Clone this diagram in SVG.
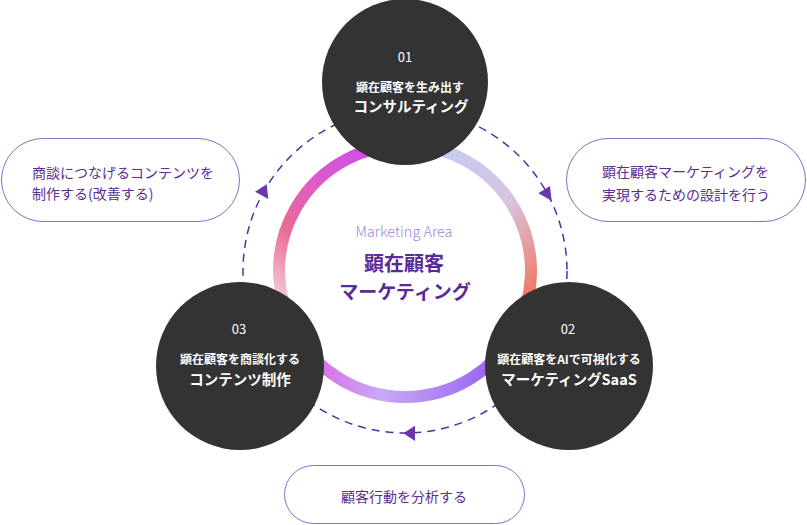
<svg xmlns="http://www.w3.org/2000/svg" width="807" height="525" viewBox="0 0 807 525">
<style>
text{font-family:"Noto Sans CJK JP","Noto Sans",sans-serif;dominant-baseline:central}
.node{fill:#333333}
.num{fill:#ffffff;font-size:13px;text-anchor:middle}
.sub{fill:#ffffff;font-size:12px;font-weight:700;text-anchor:middle}
.title{fill:#ffffff;font-size:14.5px;font-weight:700;text-anchor:middle}
.pill{fill:#ffffff;stroke:#8d6bc9;stroke-width:1}
.ptxt{fill:#5b2d91;font-size:14px}
.dash{fill:none;stroke:#5a2d9e;stroke-width:1.5;stroke-dasharray:8 6}
.arrow{fill:#6a38ad}
.ring{fill:none;stroke-width:12}
</style>
<defs>
<linearGradient id="gA" gradientUnits="userSpaceOnUse" x1="448" y1="153" x2="529" y2="293">
<stop offset="0" stop-color="#c6cbf2"/>
<stop offset="0.45" stop-color="#d8c3de"/>
<stop offset="1" stop-color="#ee7a68"/>
</linearGradient>
<linearGradient id="gB" gradientUnits="userSpaceOnUse" x1="486" y1="368" x2="324" y2="368">
<stop offset="0" stop-color="#9b68f0"/>
<stop offset="0.65" stop-color="#c9a8f7"/>
<stop offset="1" stop-color="#d676e6"/>
</linearGradient>
<linearGradient id="gC" gradientUnits="userSpaceOnUse" x1="281" y1="293" x2="362" y2="153">
<stop offset="0" stop-color="#f3c3cf"/>
<stop offset="0.35" stop-color="#e86c95"/>
<stop offset="0.7" stop-color="#e05ac8"/>
<stop offset="1" stop-color="#cf4fe6"/>
</linearGradient>
</defs>
<rect width="807" height="525" fill="#ffffff"/>

<g id="ring">
<path class="ring" stroke="url(#gA)" d="M405 145 A126 126 0 0 1 514.1 334"/>
<path class="ring" stroke="url(#gB)" d="M514.1 334 A126 126 0 0 1 295.9 334"/>
<path class="ring" stroke="url(#gC)" d="M295.9 334 A126 126 0 0 1 405 145"/>
</g>

<g id="connectors">
<circle class="dash" cx="405" cy="271" r="162"/>
<polygon class="arrow" points="538.3,193.3 550,186 551.7,200.7"/>
<polygon class="arrow" points="403.3,433.3 415,425.7 415,441"/>
<polygon class="arrow" points="255,191.7 266.7,184.3 268.3,199"/>
</g>

<g id="center">
<text x="404" y="230" text-anchor="middle" font-size="14.5" font-weight="300" fill="#9d88d4">Marketing Area</text>
<text x="404" y="262" text-anchor="middle" font-size="20" font-weight="700" fill="#5b2a9a">顕在顧客</text>
<text x="405" y="290" text-anchor="middle" font-size="19" font-weight="700" fill="#5b2a9a">マーケティング</text>
</g>

<g id="node01">
<circle class="node" cx="405" cy="82" r="83"/>
<text class="num" x="405" y="56">01</text>
<text class="sub" x="410" y="86">顕在顧客を生み出す</text>
<text class="title" x="411" y="105">コンサルティング</text>
</g>

<g id="node02">
<circle class="node" cx="569" cy="366" r="84"/>
<text class="num" x="568" y="328">02</text>
<text class="sub" x="569" y="358">顕在顧客をAIで可視化する</text>
<text class="title" x="569" y="378">マーケティングSaaS</text>
</g>

<g id="node03">
<circle class="node" cx="240" cy="366" r="84"/>
<text class="num" x="239" y="328">03</text>
<text class="sub" x="240" y="358">顕在顧客を商談化する</text>
<text class="title" x="240" y="378">コンテンツ制作</text>
</g>

<g id="pill-left">
<rect class="pill" x="1.5" y="138.5" width="238" height="83" rx="41.5"/>
<text class="ptxt" x="32" y="172">商談につなげるコンテンツを</text>
<text class="ptxt" x="32" y="193">制作する(改善する)</text>
</g>

<g id="pill-right">
<rect class="pill" x="566.5" y="138.5" width="239" height="83" rx="41.5"/>
<text class="ptxt" x="602" y="171">顕在顧客マーケティングを</text>
<text class="ptxt" x="602" y="194">実現するための設計を行う</text>
</g>

<g id="pill-bottom">
<rect class="pill" x="284.5" y="465.5" width="240" height="58" rx="29"/>
<text class="ptxt" x="404" y="496" text-anchor="middle">顧客行動を分析する</text>
</g>
</svg>
